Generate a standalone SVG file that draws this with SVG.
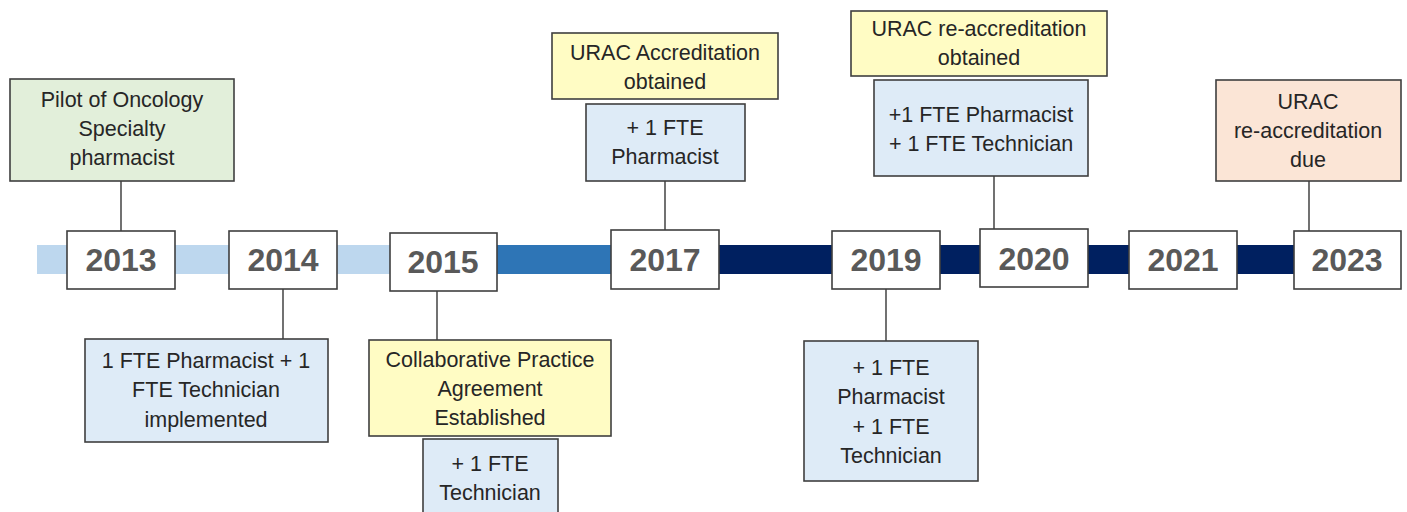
<svg xmlns="http://www.w3.org/2000/svg" width="1407" height="512" viewBox="0 0 1407 512">
<style>
.box{stroke:#3f3f3f;stroke-width:1.6}
.yr{fill:#ffffff;stroke:#3f3f3f;stroke-width:1.6}
.blue{fill:#deebf7}
.green{fill:#e2efda}
.yellow{fill:#fffcc4}
.peach{fill:#fbe5d6}
.t{font-family:"Liberation Sans",Arial,sans-serif;font-size:21.5px;fill:#262626;text-anchor:middle}
.y{font-family:"Liberation Sans",Arial,sans-serif;font-size:32px;font-weight:bold;fill:#595959;text-anchor:middle}
.c{stroke:#262626;stroke-width:1.3;fill:none}
</style>
<rect width="1407" height="512" fill="#ffffff"/>
<g id="bar">
<rect x="37" y="245" width="360" height="29" fill="#bdd7ee"/>
<rect x="497" y="245" width="116" height="29" fill="#2e75b6"/>
<rect x="719" y="245" width="580" height="29" fill="#002060"/>
</g>
<g id="connectors">
<line class="c" x1="121" y1="181" x2="121" y2="231"/>
<line class="c" x1="283" y1="289" x2="283" y2="339"/>
<line class="c" x1="437" y1="291" x2="437" y2="340"/>
<line class="c" x1="665" y1="181" x2="665" y2="230"/>
<line class="c" x1="886" y1="289" x2="886" y2="341"/>
<line class="c" x1="994" y1="176" x2="994" y2="229"/>
<line class="c" x1="1309" y1="181" x2="1309" y2="231"/>
</g>
<g id="y2013"><rect class="yr" x="67" y="231" width="108" height="58"/><text class="y" x="121" y="271">2013</text></g>
<g id="y2014"><rect class="yr" x="229" y="231" width="108" height="58"/><text class="y" x="283" y="271">2014</text></g>
<g id="y2015"><rect class="yr" x="390" y="233" width="107" height="58"/><text class="y" x="443" y="273">2015</text></g>
<g id="y2017"><rect class="yr" x="611" y="230" width="108" height="59"/><text class="y" x="665" y="271">2017</text></g>
<g id="y2019"><rect class="yr" x="832" y="231" width="108" height="58"/><text class="y" x="886" y="271">2019</text></g>
<g id="y2020"><rect class="yr" x="980" y="229" width="108" height="58"/><text class="y" x="1034" y="270">2020</text></g>
<g id="y2021"><rect class="yr" x="1129" y="231" width="108" height="58"/><text class="y" x="1183" y="271">2021</text></g>
<g id="y2023"><rect class="yr" x="1294" y="231" width="107" height="58"/><text class="y" x="1347" y="271">2023</text></g>
<g id="pilot"><rect class="box green" x="10" y="79" width="224" height="102"/>
<text class="t" x="122" y="107">Pilot of Oncology</text><text class="t" x="122" y="136">Specialty</text><text class="t" x="122" y="165">pharmacist</text></g>
<g id="fte2014"><rect class="box blue" x="85" y="339" width="243" height="103"/>
<text class="t" x="206" y="368">1 FTE Pharmacist + 1</text><text class="t" x="206" y="397">FTE Technician</text><text class="t" x="206" y="427">implemented</text></g>
<g id="cpa"><rect class="box yellow" x="369" y="340" width="242" height="96"/>
<text class="t" x="490" y="367">Collaborative Practice</text><text class="t" x="490" y="396">Agreement</text><text class="t" x="490" y="425">Established</text></g>
<g id="tech2015"><rect class="box blue" x="423" y="439" width="135" height="80"/>
<text class="t" x="490" y="471">+ 1 FTE</text><text class="t" x="490" y="500">Technician</text></g>
<g id="urac2017"><rect class="box yellow" x="552" y="33" width="226" height="66"/>
<text class="t" x="665" y="60">URAC Accreditation</text><text class="t" x="665" y="89">obtained</text></g>
<g id="pharm2017"><rect class="box blue" x="586" y="104" width="159" height="77"/>
<text class="t" x="665" y="135">+ 1 FTE</text><text class="t" x="665" y="164">Pharmacist</text></g>
<g id="fte2019"><rect class="box blue" x="804" y="341" width="174" height="140"/>
<text class="t" x="891" y="375">+ 1 FTE</text><text class="t" x="891" y="404">Pharmacist</text><text class="t" x="891" y="434">+ 1 FTE</text><text class="t" x="891" y="463">Technician</text></g>
<g id="urac2020"><rect class="box yellow" x="851" y="11" width="256" height="65"/>
<text class="t" x="979" y="36">URAC re-accreditation</text><text class="t" x="979" y="65">obtained</text></g>
<g id="fte2020"><rect class="box blue" x="874" y="80" width="214" height="96"/>
<text class="t" x="981" y="122">+1 FTE Pharmacist</text><text class="t" x="981" y="151">+ 1 FTE Technician</text></g>
<g id="urac2023"><rect class="box peach" x="1216" y="80" width="185" height="101"/>
<text class="t" x="1308" y="109">URAC</text><text class="t" x="1308" y="138">re-accreditation</text><text class="t" x="1308" y="167">due</text></g>
</svg>
